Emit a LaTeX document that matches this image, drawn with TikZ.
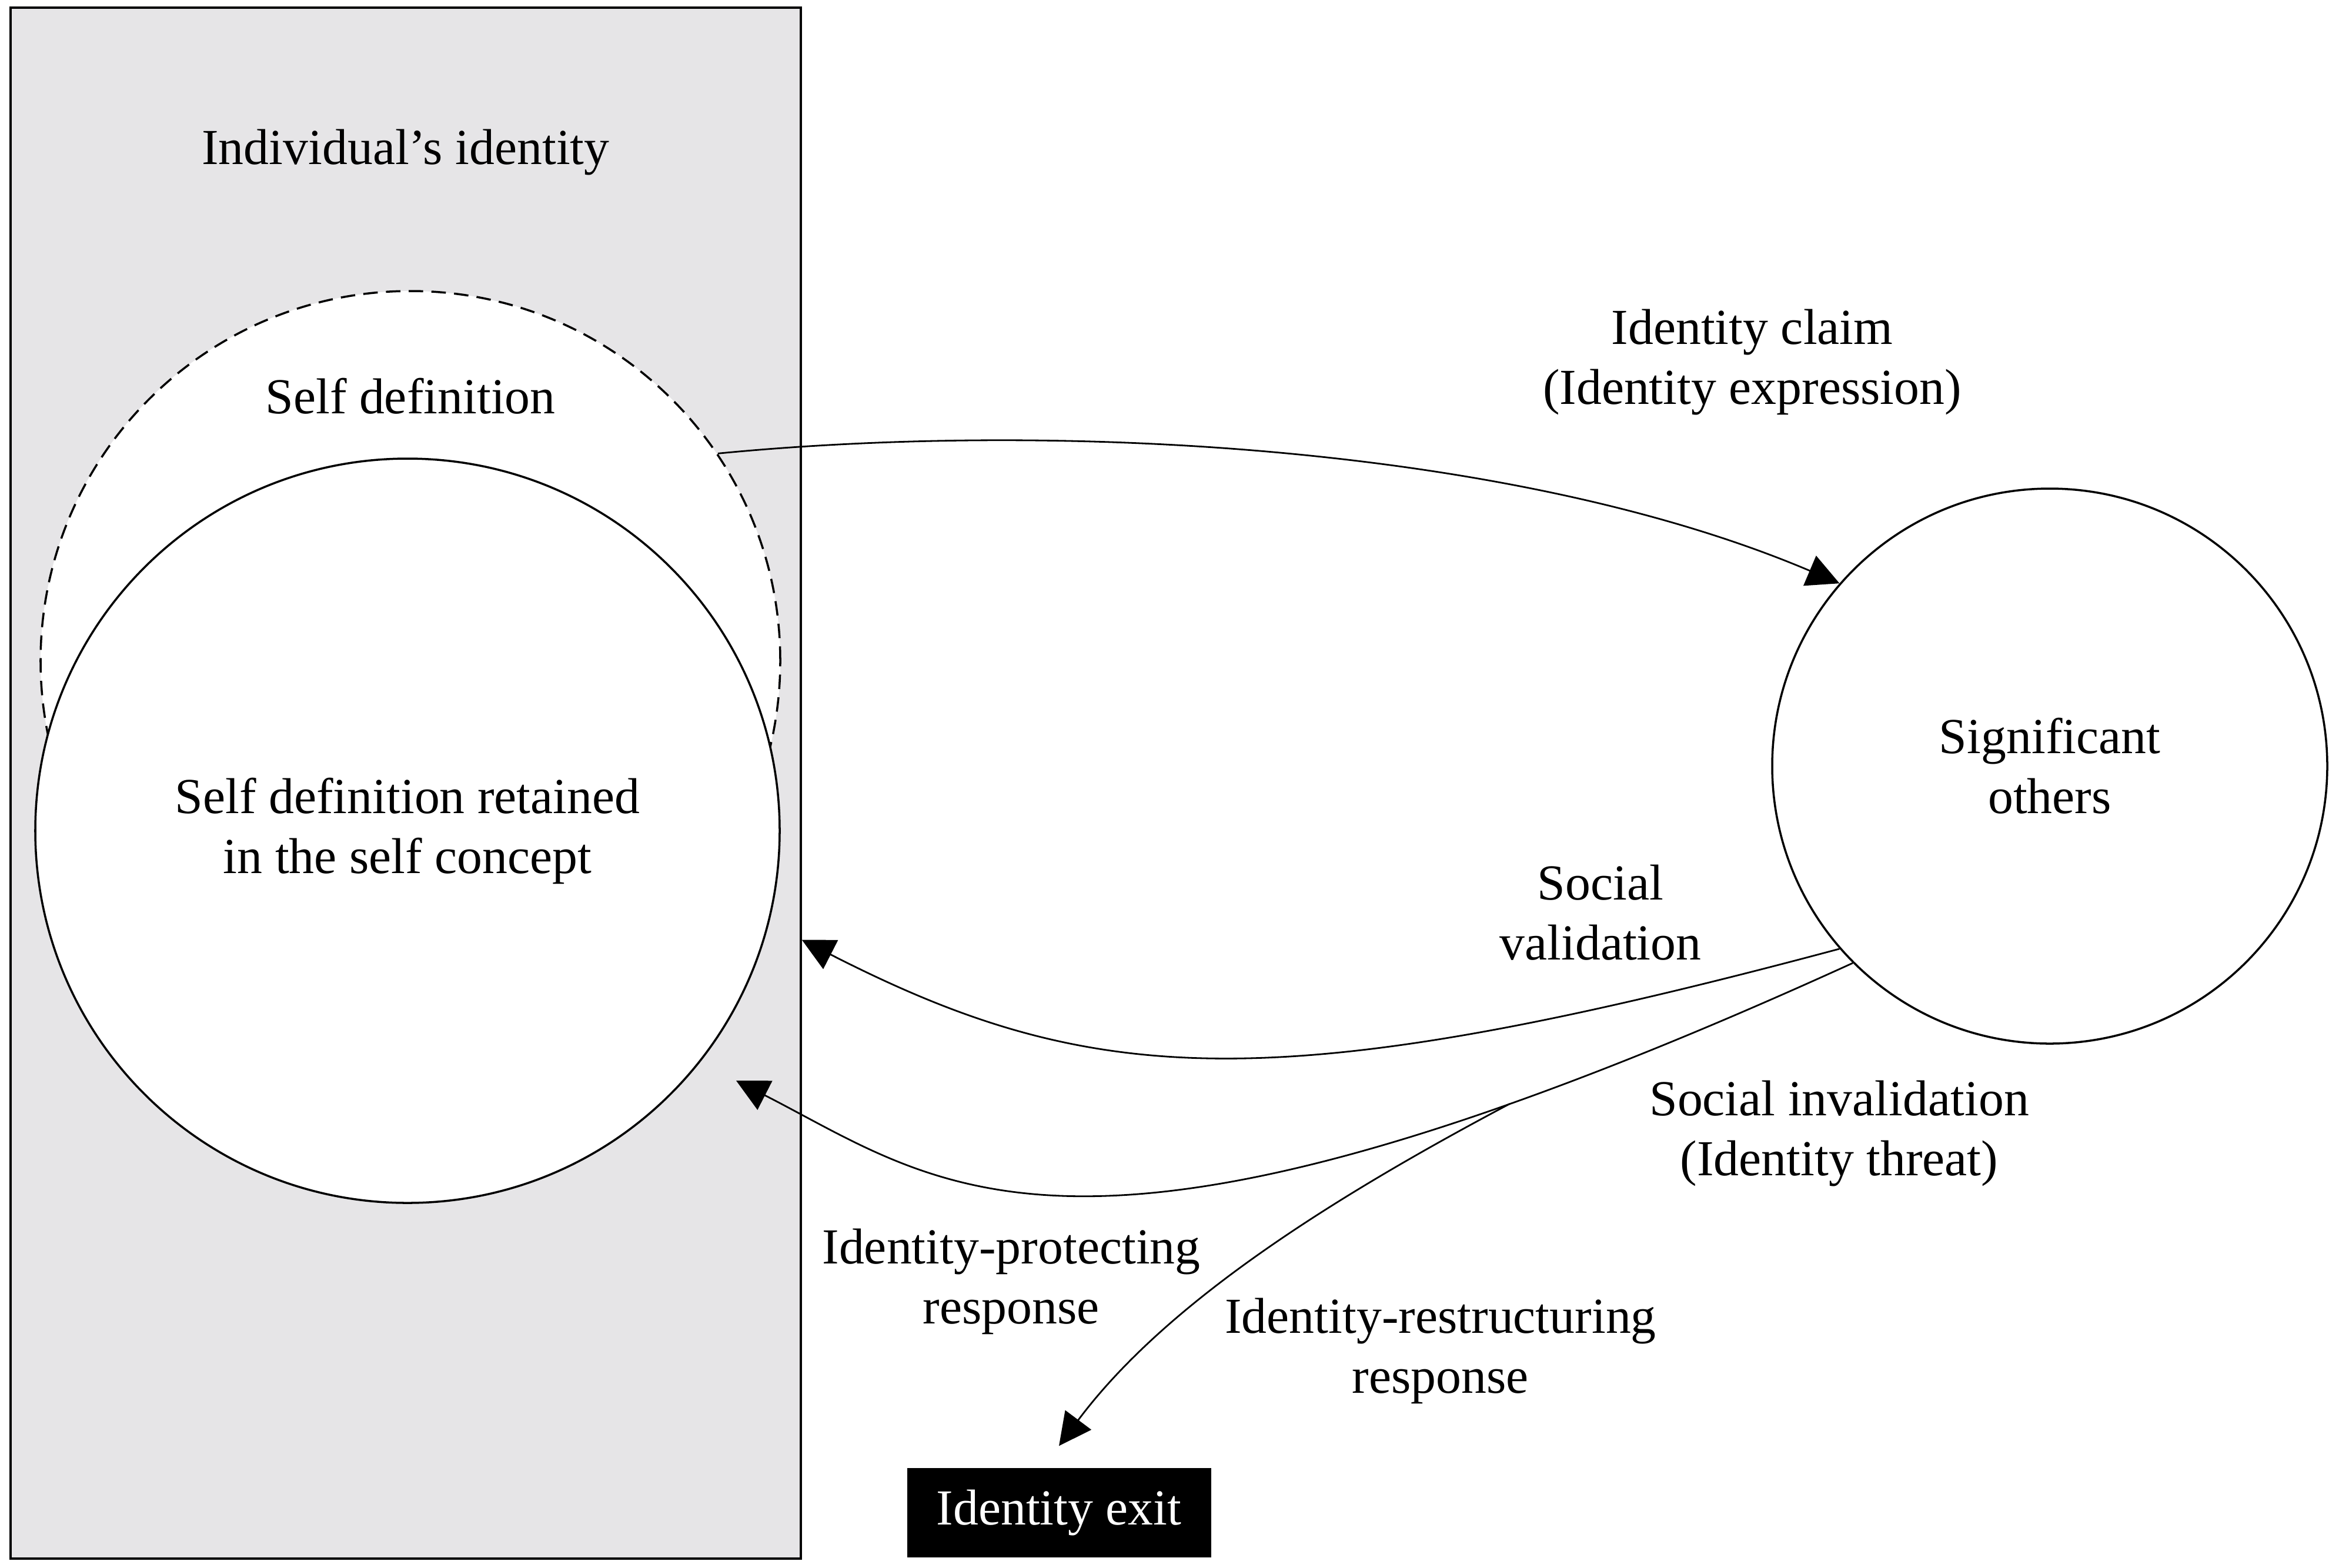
\documentclass[tikz,border=0pt]{standalone}
\usepackage{fontspec}
\setmainfont{Liberation Serif}
\usetikzlibrary{arrows.meta,positioning}
\definecolor{boxgray}{RGB}{230,229,231}
\begin{document}
\begin{tikzpicture}[
        font=\fontsize{24.4}{29}\selectfont,
        line width=1pt,
        arr/.style={line width=0.8pt,-{Triangle[length=5.5mm,width=5.5mm]}},
        txt/.style={align=center,inner sep=0pt},
        ring/.style={draw,circle,fill=white,inner sep=0pt,align=center}]
        \useasboundingbox (0,0) rectangle (39.78,-26.66);

        % individual side
        \node[draw,fill=boxgray,minimum width=13.44cm,minimum height=26.38cm,inner sep=0pt] (indiv) at (6.90,-13.32) {};
        \node[txt] (indivtext) at (6.90,-2.59) {Individual's identity};
        \node[ring,dash pattern=on 7pt off 4pt,minimum size=12.58cm] (sdef) at (6.98,-11.24) {};
        \node[txt] (sdeftext) at ([yshift=-1.80cm]sdef.north) {Self definition};
        \node[ring,minimum size=12.66cm] (retain) at (6.93,-14.13) {Self definition retained\\in the self concept};

        % others and exit
        \node[ring,minimum size=9.44cm] (others) at (34.86,-13.03) {Significant\\others};
        \node[fill=black,text=white,minimum width=5.17cm,minimum height=1.52cm,inner sep=0pt] (exit) at (18.01,-25.73) {Identity exit};
        \coordinate (protect) at (12.52,-18.38);

        % flows
        \draw[arr] (sdef.34) .. controls (18.00,-7.15) and (25.77,-7.58) .. (others.139);
        \draw[arr] (others.221) .. controls (21.64,-18.72) and (18.56,-18.50) .. (retain.-17 -| indiv.east);
        \draw[arr] (others.225) .. controls (18.32,-22.39) and (16.08,-20.20) .. (protect)
            coordinate[pos=0.17] (branch);
        \draw[arr] (branch) .. controls (22.59,-20.41) and (19.81,-22.18) .. ([yshift=3.6mm]exit.north);

        % labels
        \node[txt] (claimtext) at (29.80,-6.16) {Identity claim\\(Identity expression)};
        \node[txt] (validtext) at (27.22,-15.52) {Social\\validation};
        \node[txt] (invalidtext) at (31.28,-19.28) {Social invalidation\\(Identity threat)};
        \node[txt] (protecttext) at (17.20,-21.80) {Identity-protecting\\response};
        \node[txt] (restructtext) at (24.50,-22.98) {Identity-restructuring\\response};
\end{tikzpicture}
\end{document}
